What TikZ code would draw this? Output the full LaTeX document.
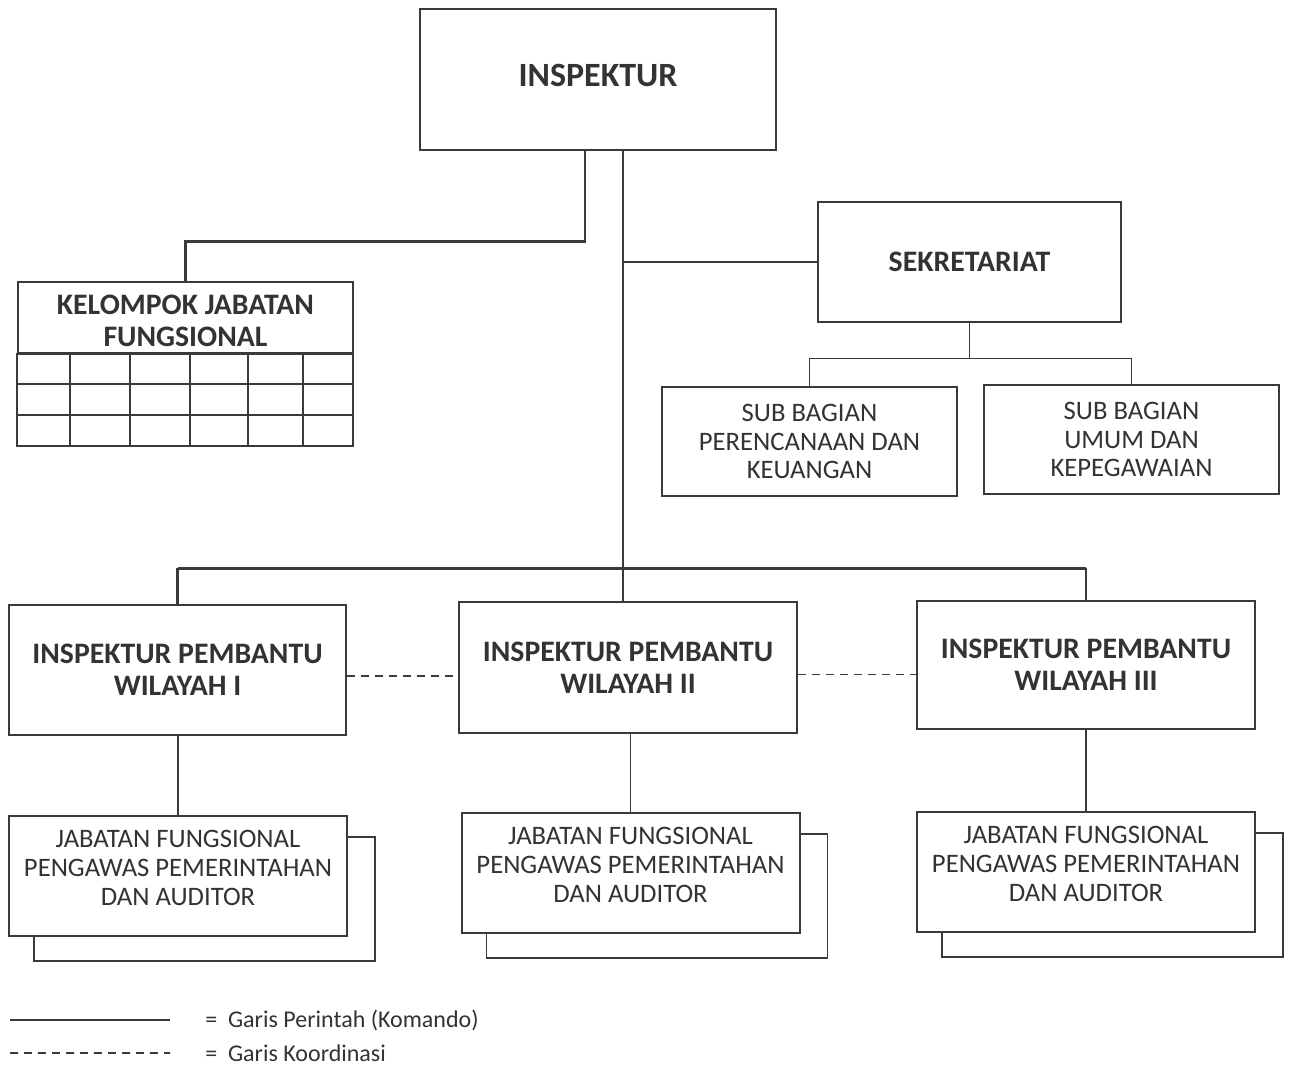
\documentclass[tikz,border=0pt]{standalone}
\usepackage{fontspec}
\setmainfont{Carlito}
\usetikzlibrary{calc}
\definecolor{ink}{HTML}{3A3A3A}
\definecolor{txt}{HTML}{333333}
\tikzset{
  box/.style={draw=ink, line width=2.2pt, fill=white, align=center, inner sep=0pt, text=txt},
  sbox/.style={draw=ink, line width=1.5pt, fill=white, align=center, inner sep=0pt, text=txt},
  conn/.style={draw=ink, line width=2.2pt},
  sconn/.style={draw=ink, line width=1.4pt},
  coord/.style={draw=ink, line width=1.3pt, dash pattern=on 6pt off 4.5pt},
  bigt/.style={font=\bfseries\fontsize{25.5}{30}\selectfont},
  boldt/.style={font=\bfseries\fontsize{22.3}{24}\selectfont},
  regt/.style={font=\fontsize{20}{21.5}\selectfont},
  legt/.style={font=\fontsize{18}{21}\selectfont, text=txt, anchor=west, inner sep=0pt},
}
\begin{document}
\begin{tikzpicture}[x=0.75pt,y=-0.75pt]
\useasboundingbox[fill=white] (0,0) rectangle (1293,1065);

% Inspektur
\node[box, minimum width=356*0.75pt, minimum height=141*0.75pt] (insp) at (598,79.5) {};
\node[bigt, text=txt, inner sep=0pt] (inspt) at ($(insp.center)+(0,-4)$) {INSPEKTUR};

% Kelompok jabatan fungsional
\node[sbox, line width=1.6pt, minimum width=335*0.75pt, minimum height=71*0.75pt] (kel) at (185.5,317.5) {};
\draw[draw=ink, line width=1.6pt] (kel.south west) rectangle (353,446);
\foreach \yy in {384,415} \draw[draw=ink, line width=1.6pt] (18,\yy) -- (353,\yy);
\foreach \xx in {70,130,190,248,303} \draw[draw=ink, line width=1.6pt] (\xx,353) -- (\xx,446);
\node[boldt, text=txt, align=center, inner sep=0pt] (kelt) at ($(kel.center)+(0,3)$) {KELOMPOK JABATAN\\FUNGSIONAL};

% Sekretariat and subs
\node[box, boldt, minimum width=303*0.75pt, minimum height=120*0.75pt] (sek) at (969.5,262) {SEKRETARIAT};
\node[sbox, regt, minimum width=295*0.75pt, minimum height=109*0.75pt] (sb1) at (809.5,441.5) {SUB BAGIAN\\PERENCANAAN DAN\\KEUANGAN};
\node[sbox, regt, minimum width=295*0.75pt, minimum height=109*0.75pt] (sb2) at (1131.5,439.5) {SUB BAGIAN\\UMUM DAN\\KEPEGAWAIAN};

% Inspektur pembantu
\node[box, boldt, minimum width=337*0.75pt, minimum height=130*0.75pt] (ip1) at (177.5,670) {INSPEKTUR PEMBANTU\\WILAYAH I};
\node[box, boldt, minimum width=338*0.75pt, minimum height=131*0.75pt] (ip2) at (628,667.5) {INSPEKTUR PEMBANTU\\WILAYAH II};
\node[box, boldt, minimum width=338*0.75pt, minimum height=128*0.75pt] (ip3) at (1086,665) {INSPEKTUR PEMBANTU\\WILAYAH III};

% Jabatan fungsional boxes
\foreach \n/\cx/\cy in {jf1/178/876, jf2/630.5/873, jf3/1086/872}{
  \node[sbox, regt, minimum width=338*0.75pt, minimum height=120*0.75pt] (\n) at (\cx,\cy) {};
  \node[regt, text=txt, align=center, inner sep=0pt] (\n t) at ($(\n.center)+(0,-8)$) {JABATAN FUNGSIONAL\\PENGAWAS PEMERINTAHAN\\DAN AUDITOR};
  \draw[sconn] ($(\n.north east)+(0,22)$) -| ($(\n.south east)+(27,24)$) -| ($(\n.south west)+(26,0)$);
}

% Connectors
\coordinate (tr) at ($(insp.south)+(25,0)$);
\coordinate (bus) at ($(tr)+(0,417)$);
\draw[conn] ($(insp.south)+(-13,0)$) |- ($(kel.north)+(0,-39)$) -- (kel.north);
\draw[conn] (tr) -- (tr |- ip2.north);
\draw[conn] (tr |- sek.west) -- (sek.west);
\draw[conn] (ip1.north |- bus) -- (ip3.north |- bus);
\draw[conn] (ip1.north |- bus) -- (ip1.north);
\draw[conn] (ip3.north |- bus) -- (ip3.north);

\coordinate (sbus) at ($(sek.south)+(0,35)$);
\draw[sconn] (sek.south) -- (sbus);
\draw[sconn] (sb1.north |- sbus) -- (sb2.north |- sbus);
\draw[sconn] (sb1.north |- sbus) -- (sb1.north);
\draw[sconn] (sb2.north |- sbus) -- (sb2.north);

\draw[coord] ($(ip1.east)+(0,6)$) -- ($(ip1.east -| ip2.west)+(0,6)$);
\draw[coord] ($(ip2.east)+(0,7)$) -- ($(ip2.east -| ip3.west)+(0,7)$);

\draw[sconn] (jf1.north |- ip1.south) -- (jf1.north);
\draw[sconn] (jf2.north |- ip2.south) -- (jf2.north);
\draw[sconn] (jf3.north |- ip3.south) -- (jf3.north);

% Legend
\coordinate (l1a) at (10,1020);
\coordinate (l1b) at (170,1020);
\coordinate (l2a) at (10,1053);
\coordinate (l2b) at (170,1053);
\draw[sconn] (l1a) -- (l1b);
\draw[coord, line width=1.2pt] (l2a) -- (l2b);
\node[legt] (lg1) at (205,1020) {=\ \ Garis Perintah (Komando)};
\node[legt] (lg2) at (205,1053) {=\ \ Garis Koordinasi};
\end{tikzpicture}
\end{document}
